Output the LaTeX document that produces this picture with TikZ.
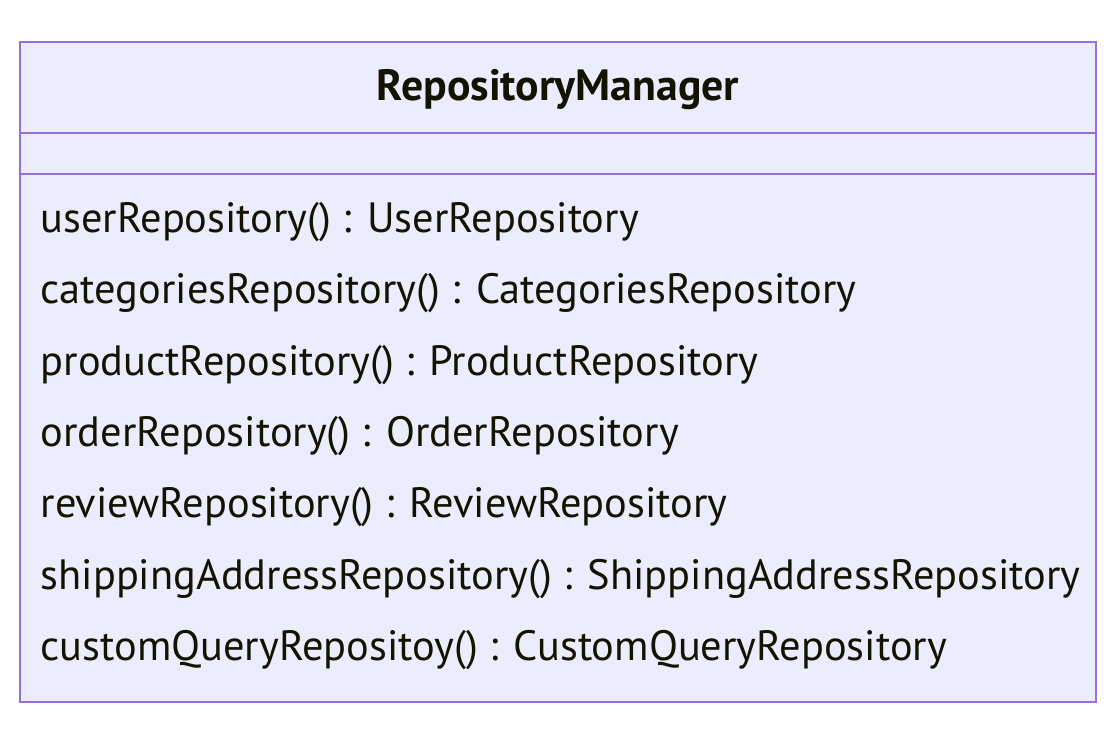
\documentclass[tikz,border=0pt]{standalone}
\usepackage{fontspec}
\setmainfont{PT Sans}
\usepackage{xcolor}
\usepackage{tikz}
\usetikzlibrary{positioning}
\definecolor{classfill}{HTML}{ECECFF}
\definecolor{classline}{HTML}{9370DB}
\definecolor{classtext}{HTML}{131300}

\begin{document}
\begin{tikzpicture}[x=0.01cm, y=-0.01cm,
    classbox/.style={draw=classline, fill=classfill, line width=0.025cm},
    divider/.style={draw=classline, line width=0.025cm},
    title/.style={font=\fontsize{12.45}{14}\selectfont\bfseries, text=classtext, anchor=base, inner sep=0pt},
    member/.style={font=\fontsize{12.05}{15}\selectfont, text=classtext, anchor=base west, inner sep=0pt}]
    \useasboundingbox (0,0) rectangle (1116,744);

    % Class box
    \draw[classbox] (20,42) rectangle (1096,702);
    \draw[divider] (20,133) -- (1096,133);
    \draw[divider] (20,174) -- (1096,174);

    % Class name
    \node[title] (name) at (558,100) {RepositoryManager};

    % Methods
    \node[member] (m1) at (40,232) {userRepository() : UserRepository};
    \node[member] (m2) at (40,303) {categoriesRepository() : CategoriesRepository};
    \node[member] (m3) at (40,375) {productRepository() : ProductRepository};
    \node[member] (m4) at (40,446) {orderRepository() : OrderRepository};
    \node[member] (m5) at (40,517) {reviewRepository() : ReviewRepository};
    \node[member] (m6) at (40,589) {shippingAddressRepository() : ShippingAddressRepository};
    \node[member] (m7) at (40,660) {customQueryRepositoy() : CustomQueryRepository};
\end{tikzpicture}
\end{document}
